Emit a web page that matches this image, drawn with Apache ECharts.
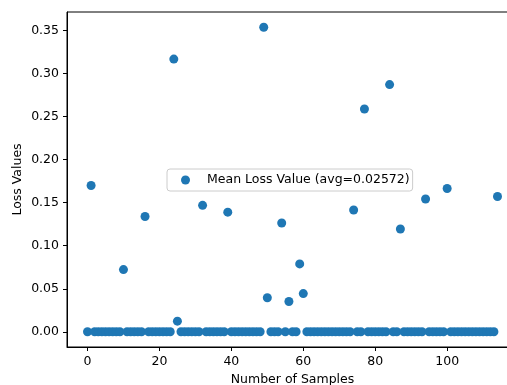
<!DOCTYPE html>
<html>
<head>
<meta charset="utf-8">
<script src="https://cdn.jsdelivr.net/npm/echarts@6/dist/echarts.min.js"></script>
<style>
html,body{margin:0;padding:0;background:#fff;}
#chart{width:507px;height:385px;}
</style>
</head>
<body>
<div id="chart"></div>
<script>
// Loss value per sample (index = sample number)
const lossValues = [
  0, 0.170, 0, 0, 0, 0, 0, 0, 0, 0,
  0.0723, 0, 0, 0, 0, 0, 0.134, 0, 0, 0,
  0, 0, 0, 0, 0.317, 0.0123, 0, 0, 0, 0,
  0, 0, 0.147, 0, 0, 0, 0, 0, 0, 0.139,
  0, 0, 0, 0, 0, 0, 0, 0, 0, 0.354,
  0.0395, 0, 0, 0, 0.1265, 0, 0.0352, 0, 0, 0.0789,
  0.0444, 0, 0, 0, 0, 0, 0, 0, 0, 0,
  0, 0, 0, 0, 0.1416, 0, 0, 0.259, 0, 0,
  0, 0, 0, 0, 0.2873, 0, 0, 0.1195, 0, 0,
  0, 0, 0, 0, 0.1543, 0, 0, 0, 0, 0,
  0.1666, 0, 0, 0, 0, 0, 0, 0, 0, 0,
  0, 0, 0, 0, 0.1573
];
const sampleNumbers = lossValues.map((_, i) => i);
const xTicks = [0, 20, 40, 60, 80, 100];
const yTicks = [0, 0.05, 0.10, 0.15, 0.20, 0.25, 0.30, 0.35];
const legendLabel = 'Mean Loss Value (avg=0.02572)';
const xTitle = 'Number of Samples';
const yTitle = 'Loss Values';

const font = 'DejaVu Sans';
const chart = echarts.init(document.getElementById('chart'), null, {renderer: 'canvas'});
const points = sampleNumbers.map((x, i) => [x, lossValues[i]]);
chart.setOption({
  animation: false,
  backgroundColor: '#fff',
  grid: {left: 67, top: 12, width: 451, height: 335, containLabel: false, outerBoundsMode: 'none',
    show: true, borderColor: '#000', borderWidth: 1, backgroundColor: 'transparent'},
  legend: {
    left: 167, top: 169,
    padding: [4, 3, 4, 14],
    itemWidth: 33, itemHeight: 9,
    itemGap: 0,
    backgroundColor: 'rgba(255,255,255,0.8)',
    borderColor: '#cccccc', borderWidth: 1, borderRadius: 3,
    textStyle: {fontFamily: font, fontSize: 12.5, color: '#000', lineHeight: 14},
    data: [{name: legendLabel, icon: 'circle'}]
  },
  xAxis: {
    type: 'value', min: -5.7, max: 119.7,
    name: xTitle, nameLocation: 'middle', nameGap: 26, nameMoveOverlap: false,
    nameTextStyle: {fontFamily: font, fontSize: 12.5, color: '#000'},
    axisLine: {onZero: false, lineStyle: {color: '#000', width: 1}},
    axisTick: {show: true, length: 4, lineStyle: {color: '#000'}, customValues: xTicks},
    axisLabel: {fontFamily: font, fontSize: 12.5, color: '#000', margin: 8, customValues: xTicks},
    splitLine: {show: false}
  },
  yAxis: {
    type: 'value', min: -0.0177, max: 0.3717,
    name: yTitle, nameLocation: 'middle', nameGap: 43, nameMoveOverlap: false,
    nameTextStyle: {fontFamily: font, fontSize: 12.5, color: '#000'},
    axisLine: {onZero: false, lineStyle: {color: '#000', width: 1}},
    axisTick: {show: true, length: 4, lineStyle: {color: '#000'}, customValues: yTicks},
    axisLabel: {fontFamily: font, fontSize: 12.5, color: '#000', margin: 8, customValues: yTicks,
      formatter: v => Number(v).toFixed(2)},
    splitLine: {show: false}
  },
  series: [{
    name: legendLabel,
    type: 'scatter',
    symbol: 'circle',
    symbolSize: 9,
    itemStyle: {color: '#1f77b4', opacity: 1},
    data: points
  }]
});
</script>
</body>
</html>
